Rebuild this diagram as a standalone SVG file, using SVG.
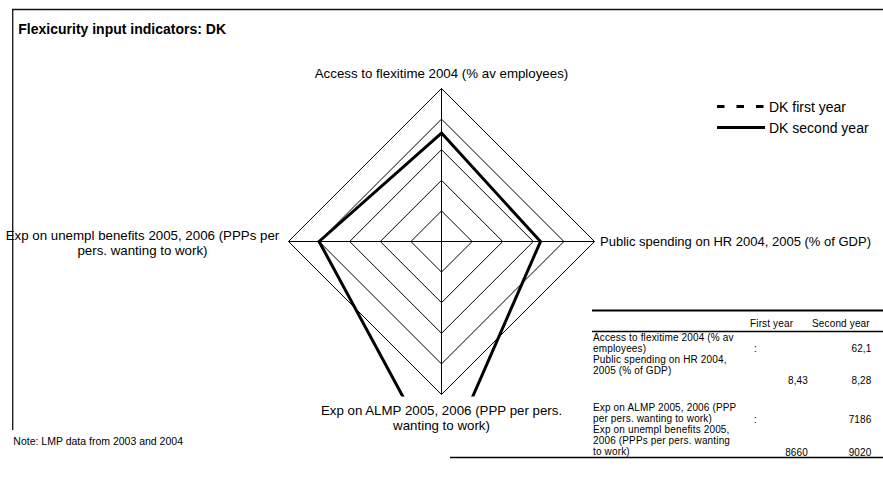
<svg xmlns="http://www.w3.org/2000/svg" width="883" height="477" viewBox="0 0 883 477">
  <style>
    text { font-family: "Liberation Sans", Arial, sans-serif; fill: #000; }
    .title { font-size: 14px; font-weight: bold; }
    .axis { font-size: 13.3px; }
    .axis-r { font-size: 13px; }
    .legend { font-size: 14px; }
    .tbl { font-size: 10px; letter-spacing: 0.15px; }
    .note { font-size: 10.5px; }
    .grid { fill: none; stroke: #000; stroke-width: 1; }
    .series2 { fill: none; stroke: #000; stroke-width: 3; stroke-linejoin: miter; }
    .series1 { fill: none; stroke: #000; stroke-width: 3; stroke-dasharray: 7.5 12; }
    .frame { fill: none; stroke: #111; stroke-width: 1.3; }
  </style>
  <defs>
    <clipPath id="plotClip">
      <rect x="250" y="60" width="380" height="336.5"/>
    </clipPath>
  </defs>
  <rect width="883" height="477" fill="#fff"/>

  <!-- chart frame (left and top edges) -->
  <g id="frame">
    <path class="frame" d="M12.7 430 V9.5 H883"/>
  </g>

  <g id="title">
    <text class="title" x="18.3" y="34.3">Flexicurity input indicators: DK</text>
  </g>

  <!-- radar grid: five rings and two axes -->
  <g id="grid">
    <polygon class="grid" points="441.5,210.9 472.1,241.5 441.5,272.1 410.9,241.5"/>
    <polygon class="grid" points="441.5,180.3 502.7,241.5 441.5,302.7 380.3,241.5"/>
    <polygon class="grid" points="441.5,149.7 533.3,241.5 441.5,333.3 349.7,241.5"/>
    <polygon class="grid" points="441.5,119.1 563.9,241.5 441.5,363.9 319.1,241.5"/>
    <polygon class="grid" points="441.5,88.5 594.5,241.5 441.5,394.5 288.5,241.5"/>
    <line class="grid" x1="441.5" y1="88.5" x2="441.5" y2="394.5"/>
    <line class="grid" x1="288.5" y1="241.5" x2="594.5" y2="241.5"/>
  </g>

  <!-- second-year series -->
  <g id="connectors" clip-path="url(#plotClip)">
    <polygon class="series2" points="441.5,133.1 540.5,241.5 441.5,468 319.1,241.5"/>
  </g>

  <!-- axis labels -->
  <g id="axis-flexitime">
    <text class="axis" x="441.5" y="78" text-anchor="middle">Access to flexitime 2004 (% av employees)</text>
  </g>
  <g id="axis-hr">
    <text class="axis-r" x="600" y="246.3">Public spending on HR 2004, 2005 (% of GDP)</text>
  </g>
  <g id="axis-almp">
    <text class="axis" x="441.5" y="415" text-anchor="middle">Exp on ALMP 2005, 2006 (PPP per pers.</text>
    <text class="axis" x="441.5" y="430" text-anchor="middle">wanting to work)</text>
  </g>
  <g id="axis-unempl">
    <text class="axis" x="142.5" y="240" text-anchor="middle">Exp on unempl benefits 2005, 2006 (PPPs per</text>
    <text class="axis" x="142.5" y="255" text-anchor="middle">pers. wanting to work)</text>
  </g>

  <!-- legend -->
  <g id="legend">
    <line class="series1" x1="717" y1="106.5" x2="765" y2="106.5"/>
    <text class="legend" x="769" y="111.5">DK first year</text>
    <line class="series2" x1="717" y1="127.5" x2="765" y2="127.5"/>
    <text class="legend" x="769" y="133">DK second year</text>
  </g>

  <!-- data table -->
  <g id="table">
    <line x1="592" y1="310.5" x2="883" y2="310.5" stroke="#000" stroke-width="2"/>
    <line x1="592" y1="331.5" x2="883" y2="331.5" stroke="#000" stroke-width="1.5"/>
    <line x1="450" y1="457.5" x2="883" y2="457.5" stroke="#000" stroke-width="1.3"/>
    <text class="tbl" x="750" y="326.5">First year</text>
    <text class="tbl" x="812" y="326.5">Second year</text>

    <text class="tbl" x="593" y="340.5">Access to flexitime 2004 (% av</text>
    <text class="tbl" x="593" y="351.5">employees)</text>
    <text class="tbl" x="754" y="352">:</text>
    <text class="tbl" x="871.5" y="352" text-anchor="end">62,1</text>

    <text class="tbl" x="593" y="362.5">Public spending on HR 2004,</text>
    <text class="tbl" x="593" y="373.5">2005 (% of GDP)</text>
    <text class="tbl" x="808" y="383.5" text-anchor="end">8,43</text>
    <text class="tbl" x="871.5" y="383.5" text-anchor="end">8,28</text>

    <text class="tbl" x="593" y="411">Exp on ALMP 2005, 2006 (PPP</text>
    <text class="tbl" x="593" y="422">per pers. wanting to work)</text>
    <text class="tbl" x="754" y="422.5">:</text>
    <text class="tbl" x="871.5" y="422.5" text-anchor="end">7186</text>

    <text class="tbl" x="593" y="433">Exp on unempl benefits 2005,</text>
    <text class="tbl" x="593" y="444">2006 (PPPs per pers. wanting</text>
    <text class="tbl" x="593" y="455">to work)</text>
    <text class="tbl" x="808" y="456" text-anchor="end">8660</text>
    <text class="tbl" x="871.5" y="456" text-anchor="end">9020</text>
  </g>

  <g id="note">
    <text class="note" x="13.3" y="445">Note: LMP data from 2003 and 2004</text>
  </g>
</svg>
